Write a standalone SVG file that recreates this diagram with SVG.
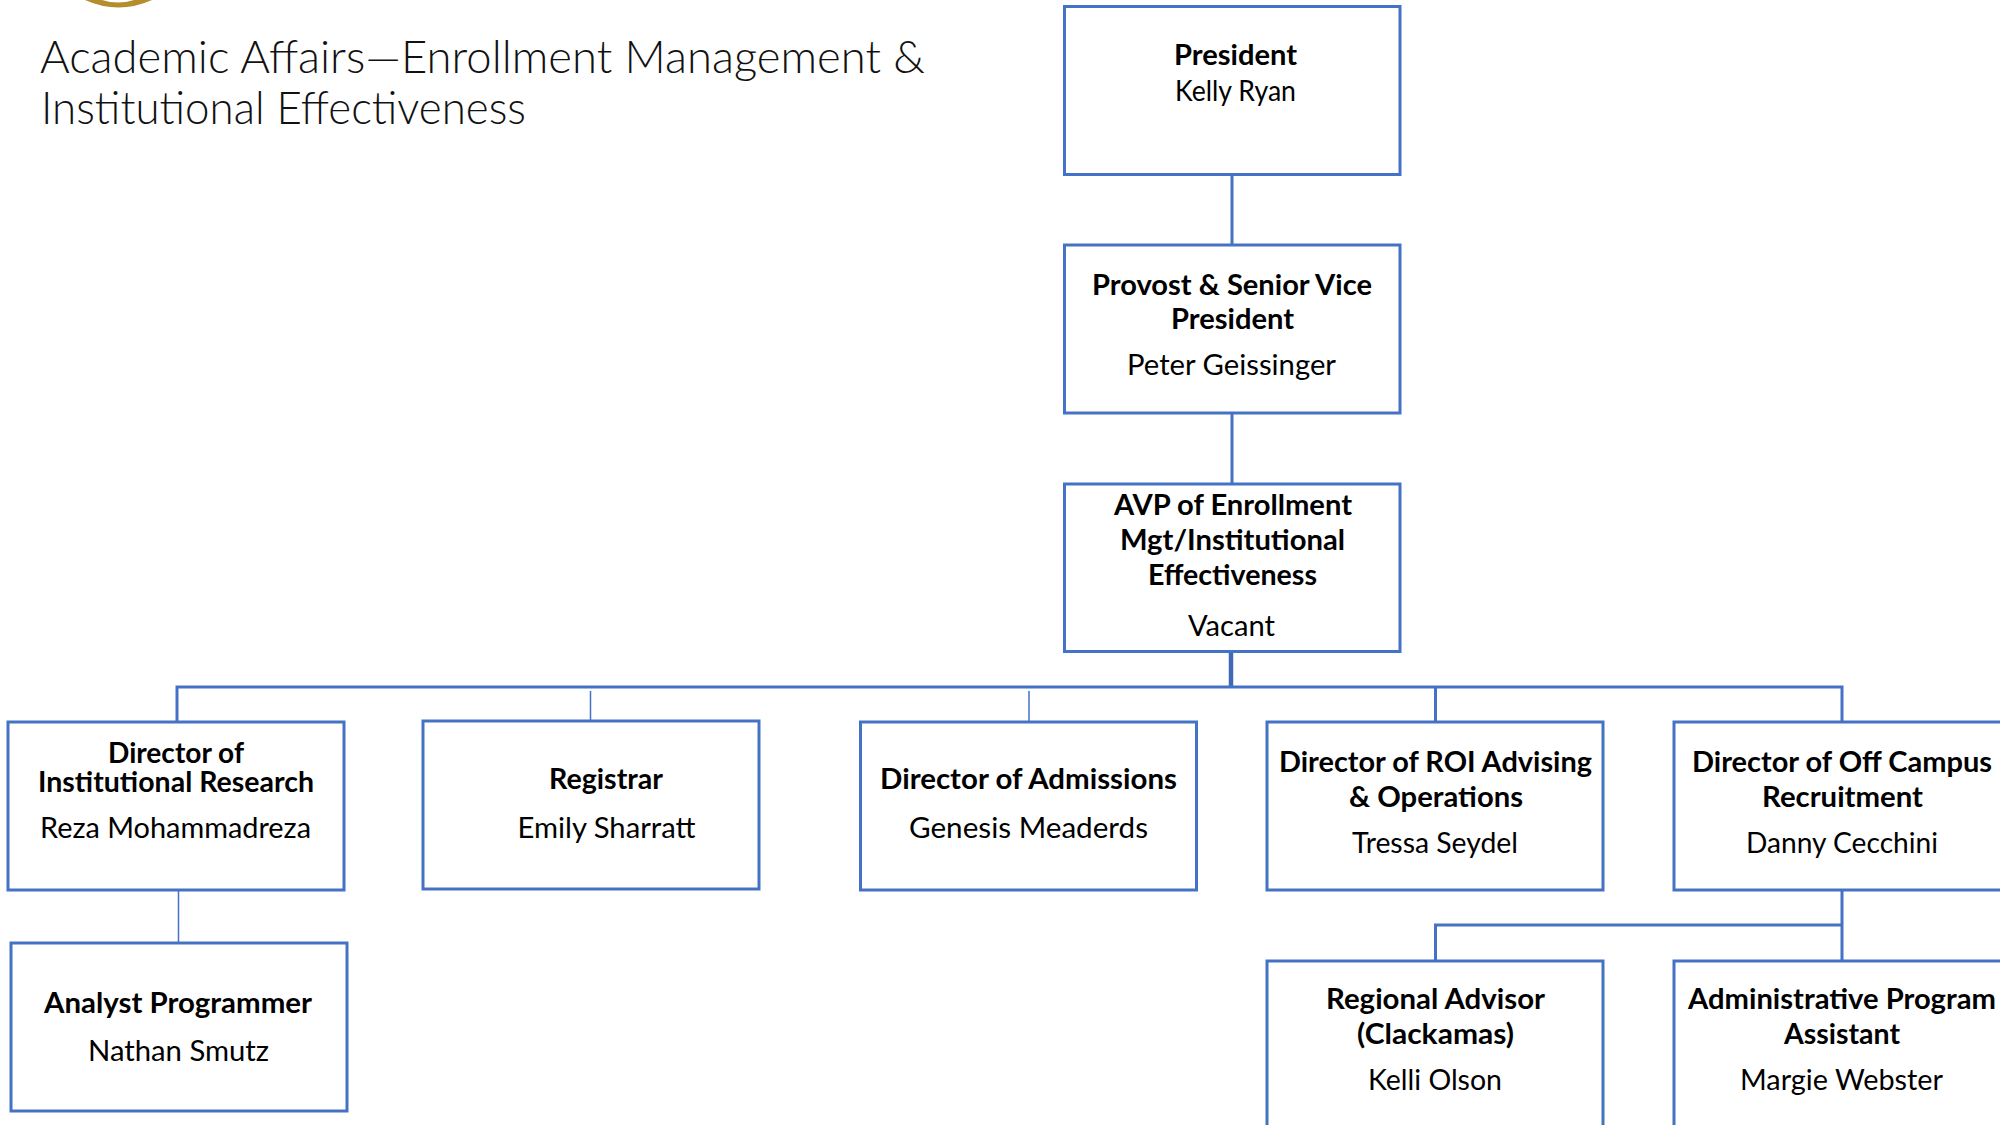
<svg xmlns="http://www.w3.org/2000/svg" width="2000" height="1125" viewBox="0 0 2000 1125">
<style>
text{font-family:"Lato","Open Sans","Liberation Sans",sans-serif;fill:#000}
.t{font-size:46px;font-weight:300;fill:#111}
.b{font-size:28px;font-weight:700}
.r{font-size:28px;font-weight:400}
.box{fill:#fff;stroke:#4472c4;stroke-width:3}
.c{fill:none;stroke:#4472c4;stroke-width:3}
.thin{fill:none;stroke:#4472c4;stroke-width:1.5}
.trunk{fill:none;stroke:#3f68b8;stroke-width:4.5}
</style>
<rect width="2000" height="1125" fill="#fff"/>
<path d="M85,0 Q118.500,15 152,0 L134,0 Q118,5 102,0 Z" fill="#b58d2e"/>
<g id="title">
<text class="t" x="40" y="73" textLength="885" lengthAdjust="spacingAndGlyphs">Academic Affairs—Enrollment Management &amp;</text>
<text class="t" x="41" y="124" textLength="485" lengthAdjust="spacingAndGlyphs">Institutional Effectiveness</text>
</g>
<g id="connectors">
<path class="c" d="M1232,175V245M1232,413V484"/>
<path class="trunk" d="M1231,651V688"/>
<path class="c" d="M177,722V687H1842V722M1435.500,687V722"/>
<path class="thin" d="M590.500,691V721M1029,691V722M178.500,890V943"/>
<path class="c" d="M1842,890V961M1842,925H1435.500V961"/>
</g>
<g id="president"><rect class="box" x="1064.500" y="6.500" width="335.500" height="168"/>
<text class="b" x="1174" y="64.500" textLength="123" lengthAdjust="spacingAndGlyphs">President</text>
<text class="r" x="1175" y="100.500" textLength="121" lengthAdjust="spacingAndGlyphs">Kelly Ryan</text></g>
<g id="provost"><rect class="box" x="1064.500" y="245" width="335.500" height="168"/>
<text class="b" x="1092" y="295" textLength="280" lengthAdjust="spacingAndGlyphs">Provost &amp; Senior Vice</text>
<text class="b" x="1171" y="329" textLength="123" lengthAdjust="spacingAndGlyphs">President</text>
<text class="r" x="1127" y="375" textLength="209" lengthAdjust="spacingAndGlyphs">Peter Geissinger</text></g>
<g id="avp"><rect class="box" x="1064.500" y="484" width="335.500" height="167.500"/>
<text class="b" x="1114" y="515" textLength="238" lengthAdjust="spacingAndGlyphs">AVP of Enrollment</text>
<text class="b" x="1120" y="550" textLength="225" lengthAdjust="spacingAndGlyphs">Mgt/Institutional</text>
<text class="b" x="1148" y="584.500" textLength="169" lengthAdjust="spacingAndGlyphs">Effectiveness</text>
<text class="r" x="1188" y="636" textLength="87" lengthAdjust="spacingAndGlyphs">Vacant</text></g>
<g id="institutional-research"><rect class="box" x="8" y="722" width="336" height="168"/>
<text class="b" x="108" y="763" textLength="136" lengthAdjust="spacingAndGlyphs">Director of</text>
<text class="b" x="38" y="792" textLength="276" lengthAdjust="spacingAndGlyphs">Institutional Research</text>
<text class="r" x="40" y="838" textLength="271" lengthAdjust="spacingAndGlyphs">Reza Mohammadreza</text></g>
<g id="registrar"><rect class="box" x="423" y="721" width="336" height="168"/>
<text class="b" x="549" y="789" textLength="114" lengthAdjust="spacingAndGlyphs">Registrar</text>
<text class="r" x="517.500" y="838" textLength="178" lengthAdjust="spacingAndGlyphs">Emily Sharratt</text></g>
<g id="admissions"><rect class="box" x="860.500" y="722" width="336" height="168"/>
<text class="b" x="880" y="789" textLength="297" lengthAdjust="spacingAndGlyphs">Director of Admissions</text>
<text class="r" x="909" y="838" textLength="239" lengthAdjust="spacingAndGlyphs">Genesis Meaderds</text></g>
<g id="roi-advising"><rect class="box" x="1267" y="722" width="336" height="168"/>
<text class="b" x="1279" y="772" textLength="313" lengthAdjust="spacingAndGlyphs">Director of ROI Advising</text>
<text class="b" x="1349" y="807" textLength="174" lengthAdjust="spacingAndGlyphs">&amp; Operations</text>
<text class="r" x="1352" y="853" textLength="166" lengthAdjust="spacingAndGlyphs">Tressa Seydel</text></g>
<g id="off-campus"><rect class="box" x="1674" y="722" width="336" height="168"/>
<text class="b" x="1692" y="772" textLength="300" lengthAdjust="spacingAndGlyphs">Director of Off Campus</text>
<text class="b" x="1762" y="807" textLength="161" lengthAdjust="spacingAndGlyphs">Recruitment</text>
<text class="r" x="1746" y="853" textLength="192" lengthAdjust="spacingAndGlyphs">Danny Cecchini</text></g>
<g id="analyst"><rect class="box" x="11" y="943" width="336" height="168"/>
<text class="b" x="44" y="1012.500" textLength="268" lengthAdjust="spacingAndGlyphs">Analyst Programmer</text>
<text class="r" x="88" y="1061" textLength="181" lengthAdjust="spacingAndGlyphs">Nathan Smutz</text></g>
<g id="regional-advisor"><rect class="box" x="1267" y="961" width="336" height="168"/>
<text class="b" x="1326" y="1009" textLength="219" lengthAdjust="spacingAndGlyphs">Regional Advisor</text>
<text class="b" x="1357" y="1044" textLength="157" lengthAdjust="spacingAndGlyphs">(Clackamas)</text>
<text class="r" x="1368" y="1090" textLength="134" lengthAdjust="spacingAndGlyphs">Kelli Olson</text></g>
<g id="program-assistant"><rect class="box" x="1674" y="961" width="336" height="168"/>
<text class="b" x="1688" y="1009" textLength="308" lengthAdjust="spacingAndGlyphs">Administrative Program</text>
<text class="b" x="1784" y="1044" textLength="116" lengthAdjust="spacingAndGlyphs">Assistant</text>
<text class="r" x="1740" y="1090" textLength="203" lengthAdjust="spacingAndGlyphs">Margie Webster</text></g>
</svg>
